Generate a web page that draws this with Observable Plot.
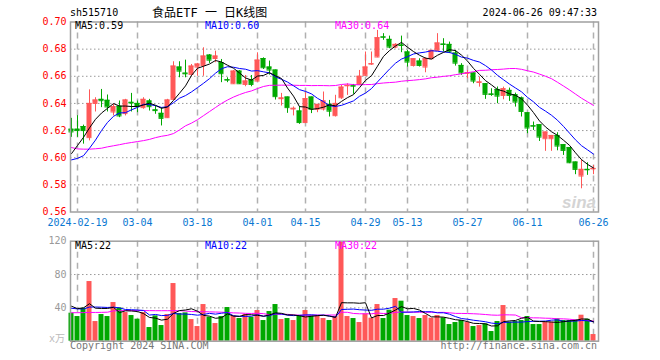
<!DOCTYPE html>
<html><head><meta charset="utf-8">
<script src="https://cdn.jsdelivr.net/npm/d3@7"></script>
<script src="https://cdn.jsdelivr.net/npm/@observablehq/plot@0.6"></script>
<style>
html,body{margin:0;padding:0;background:#fff;}
#wrap{position:relative;width:660px;height:360px;overflow:hidden;font-family:"DejaVu Sans Mono",monospace;font-size:10px;}
.t{position:absolute;white-space:pre;line-height:10px;z-index:2;}
.c{position:absolute;left:0;z-index:1;}
</style></head><body><div id="wrap"></div>
<script>
const dates = ["2024-02-08","2024-02-19","2024-02-20","2024-02-21","2024-02-22","2024-02-23","2024-02-26","2024-02-27","2024-02-28","2024-02-29",
"2024-03-01","2024-03-04","2024-03-05","2024-03-06","2024-03-07","2024-03-08","2024-03-11","2024-03-12","2024-03-13","2024-03-14","2024-03-15",
"2024-03-18","2024-03-19","2024-03-20","2024-03-21","2024-03-22","2024-03-25","2024-03-26","2024-03-27","2024-03-28","2024-03-29",
"2024-04-01","2024-04-02","2024-04-03","2024-04-08","2024-04-09","2024-04-10","2024-04-11","2024-04-12","2024-04-15","2024-04-16","2024-04-17","2024-04-18","2024-04-19",
"2024-04-22","2024-04-23","2024-04-24","2024-04-25","2024-04-26","2024-04-29","2024-04-30",
"2024-05-06","2024-05-07","2024-05-08","2024-05-09","2024-05-10","2024-05-13","2024-05-14","2024-05-15","2024-05-16","2024-05-17",
"2024-05-20","2024-05-21","2024-05-22","2024-05-23","2024-05-24","2024-05-27","2024-05-28","2024-05-29","2024-05-30","2024-05-31",
"2024-06-03","2024-06-04","2024-06-05","2024-06-06","2024-06-07","2024-06-11","2024-06-12","2024-06-13","2024-06-14",
"2024-06-17","2024-06-18","2024-06-19","2024-06-20","2024-06-21","2024-06-24","2024-06-25","2024-06-26"];

const open = [0.621,0.621,0.623,0.6148,0.640,0.643,0.6423,0.6337,0.6379,0.6325,
0.6408,0.640,0.6369,0.6418,0.6352,0.6327,0.6295,0.643,0.6668,0.6623,
0.6614,0.6668,0.668,0.6756,0.6731,0.670,0.6575,0.6545,0.6638,0.654,
0.6572,0.6565,0.6731,0.6668,0.6646,0.6435,0.6447,0.6359,0.6344,0.6259,
0.6447,0.6357,0.6359,0.6393,0.631,0.6442,0.6530,0.6530,0.654,0.6607,
0.6690,0.6742,0.6890,0.6872,0.6815,0.6830,0.6779,0.668,0.6712,0.6668,
0.6729,0.6791,0.6837,0.6835,0.6771,0.668,0.6622,0.6624,0.6555,0.6545,
0.6469,0.6503,0.6459,0.6496,0.6464,0.644,0.6331,0.6235,0.6243,0.614,
0.614,0.6164,0.6096,0.6074,0.5968,0.5865,0.5914,0.5918];
const high = [0.629,0.631,0.624,0.650,0.6442,0.6503,0.6462,0.6393,0.6418,0.643,
0.6474,0.6418,0.6442,0.643,0.638,0.6369,0.643,0.6707,0.6707,0.6719,
0.6687,0.6695,0.681,0.676,0.6785,0.6724,0.6589,0.6643,0.6643,0.6606,
0.6606,0.6773,0.6736,0.6712,0.6646,0.6474,0.6447,0.6374,0.6376,0.6479,
0.6447,0.6393,0.6484,0.6422,0.646,0.6533,0.6545,0.654,0.6643,0.6779,
0.6779,0.6938,0.6914,0.6896,0.684,0.6896,0.6791,0.6729,0.6729,0.6737,
0.6791,0.6914,0.6877,0.6852,0.6791,0.6693,0.6643,0.6626,0.6594,0.6545,
0.6508,0.6521,0.652,0.6513,0.6476,0.6447,0.6331,0.6263,0.6243,0.6189,
0.6164,0.6184,0.6096,0.6074,0.5968,0.5985,0.5963,0.5943];
const low = [0.615,0.615,0.610,0.6124,0.6337,0.6369,0.6337,0.6308,0.6295,0.6308,
0.6337,0.6332,0.6357,0.6344,0.632,0.6234,0.629,0.6425,0.6589,0.6589,
0.6597,0.660,0.660,0.6695,0.670,0.6553,0.6553,0.654,0.654,0.6523,
0.6523,0.656,0.665,0.6609,0.6425,0.6381,0.6327,0.6308,0.6246,0.6254,
0.6325,0.6332,0.6344,0.630,0.630,0.643,0.6459,0.6467,0.6535,0.660,
0.668,0.6737,0.6865,0.6803,0.6803,0.6774,0.6668,0.6668,0.6668,0.6626,
0.6729,0.6786,0.6779,0.6767,0.6675,0.6607,0.6582,0.6545,0.652,0.643,
0.6452,0.6398,0.6427,0.6415,0.6373,0.630,0.6177,0.6201,0.612,0.6047,
0.6047,0.6051,0.6017,0.5956,0.5875,0.5771,0.587,0.5875];
const close = [0.619,0.620,0.620,0.640,0.6425,0.642,0.6374,0.6376,0.6308,0.6425,
0.6403,0.6376,0.643,0.6376,0.6347,0.629,0.6425,0.6675,0.6638,0.6618,
0.6675,0.669,0.6749,0.6719,0.6749,0.6619,0.6572,0.6638,0.6545,0.6565,
0.654,0.6719,0.6663,0.6646,0.645,0.644,0.6369,0.6364,0.6259,0.6435,
0.6357,0.6393,0.6418,0.6343,0.640,0.652,0.6533,0.6528,0.660,0.6668,
0.6693,0.6884,0.6888,0.6815,0.6835,0.6827,0.6705,0.6729,0.668,0.6729,
0.6791,0.6845,0.6835,0.6779,0.6697,0.6624,0.6626,0.6565,0.6558,0.6467,
0.6467,0.6454,0.6508,0.6459,0.641,0.6341,0.6219,0.6233,0.6152,0.6189,
0.6164,0.6086,0.6054,0.5963,0.5914,0.5914,0.5911,0.5921];
const volume = [33.6,29.6,39.6,71.6,23.6,32,29.6,46.4,40,34.4,
30.8,26.4,34.4,16.4,30.4,18.8,32,69.2,33.2,34,
26,17.6,44,28.8,21.2,29.6,40.4,30.4,27.2,32,
28.8,36.8,24.8,35.6,44,26,27.2,24.8,30.4,36.8,
30.4,30.8,27.2,24.8,29.6,118.8,29.6,27.2,22.4,32.8,
27.6,44,27.2,37.2,51.2,48,30.8,29.6,27.2,30.8,
27.6,30.8,28,20,22.4,24.8,22.4,17.6,18.8,20.8,
11.6,23.6,42.8,22.8,23.6,24.8,29.6,20,20,22.8,
22.8,26.8,24.8,24.8,25.6,31.2,26.4,8];

const ma5Early = [0.603,0.609,0.615,0.622];
const ma10Early = [0.5984,0.5995,0.6015,0.607,0.613,0.620,0.626,0.6305,0.633];
const ma30Early = [0.6075,0.6065,0.6063,0.6063,0.6066,0.607,0.608,0.6088,0.6096,0.6105,0.6112,0.6119,0.6126,0.6135,0.6148,0.6158,0.6165,0.6178,0.6205,0.6235,0.6255,0.628,0.631,0.634,0.637,0.640,0.6425,0.6447,0.6465];
const vma5Early = [42,39,40,45];
const vma10Early = [39.5,38.8,38.6,41,41,40.8,40.5,40.8,40];
const vma30Early = [34.2,34.2,34.3,34.5,34.5,34.6,34.8,36.4,36.6,36.8,36.8,36.8,36.8,36.7,36.6,36.6,36.6,36.6,36.6,36.2,35.6,35.4,35.4,35.2,35,34.8,34.4,34,33.8];

const tickDates = ["2024-02-19","2024-03-04","2024-03-18","2024-04-01","2024-04-15","2024-04-29","2024-05-13","2024-05-27","2024-06-11","2024-06-26"];
const tickLabels = ["2024-02-19","03-04","03-18","04-01","04-15","04-29","05-13","05-27","06-11","06-26"];
const priceTicks = [0.56,0.58,0.60,0.62,0.64,0.66,0.68,0.70];
const priceGrid = [0.58,0.60,0.62,0.64,0.66,0.68];
const volTicks = [40,80,120];
const volGrid = [40,80];

const RED = "#ff5858", GREEN = "#00a800";
const rows = dates.map((d,i)=>({i, date:d, open:open[i], high:high[i], low:low[i], close:close[i], vol:volume[i], up: close[i] >= open[i]}));
function ma(vals, n, early){ return vals.map((v,i)=> ({i, v: i < n-1 ? early[i] : d3.mean(vals.slice(i-n+1,i+1))})); }
const ma5 = ma(close,5,ma5Early), ma10 = ma(close,10,ma10Early), ma30 = ma(close,30,ma30Early);
const vma5 = ma(volume,5,vma5Early), vma10 = ma(volume,10,vma10Early), vma30 = ma(volume,30,vma30Early);
const tickIdx = tickDates.map(d=>dates.indexOf(d));
const labelOf = new Map(tickIdx.map((k,j)=>[k,tickLabels[j]]));
const ups = rows.filter(d=>d.up), downs = rows.filter(d=>!d.up);
const hw = 2.5/6;
const xDomain = [-1/6, 87 + 5/6];
const style = {fontFamily:'"DejaVu Sans Mono", monospace', fontSize:"10px", background:"transparent", overflow:"visible"};

function candles(data, color){
  return [
    Plot.ruleX(data, {x:"i", y1:"low", y2:"high", stroke:color}),
    Plot.rect(data, {x1:d=>d.i-hw, x2:d=>d.i+hw, y1:"open", y2:"close", fill:color}),
    Plot.ruleY(data, {y:"close", x1:d=>d.i-hw, x2:d=>d.i+hw, stroke:color}),
    Plot.ruleY(data, {y:"open", x1:d=>d.i-hw, x2:d=>d.i+hw, stroke:color})
  ];
}

const price = Plot.plot({
  width:660, height:230, marginTop:21.5, marginBottom:18.5, marginLeft:70, marginRight:62,
  x:{type:"linear", domain:xDomain, label:null},
  y:{domain:[0.56,0.70], label:null},
  style,
  marks:[
    Plot.ruleY(priceGrid, {stroke:"#999", strokeDasharray:"1.5,2.5"}),
    Plot.ruleX(tickIdx, {stroke:"#b0b0b0", strokeWidth:1.5, strokeDasharray:"6,5"}),
    ...candles(ups, RED),
    ...candles(downs, GREEN),
    Plot.line(ma30, {x:"i", y:"v", stroke:"#ff00ff", strokeWidth:1}),
    Plot.line(ma10, {x:"i", y:"v", stroke:"#0000ff", strokeWidth:1}),
    Plot.line(ma5, {x:"i", y:"v", stroke:"#000", strokeWidth:1}),
    Plot.frame({stroke:"#a0a0a0", strokeWidth:1.5}),
    Plot.axisY(priceTicks, {anchor:"left", tickSize:0, tickPadding:4, tickFormat:d=>d.toFixed(2), fill:"#f00", fontSize:10, label:null}),
    Plot.axisX(tickIdx, {anchor:"bottom", tickSize:0, tickPadding:7, tickFormat:k=>labelOf.get(k), fill:"#0a78d2", fontSize:10, label:null})
  ]
});

const vol = Plot.plot({
  width:660, height:130, marginTop:10.7, marginBottom:19.3, marginLeft:70, marginRight:62,
  x:{type:"linear", domain:xDomain, axis:null, label:null},
  y:{domain:[0,120], label:null},
  style,
  marks:[
    Plot.ruleY(volGrid, {stroke:"#999", strokeDasharray:"1.5,2.5"}),
    Plot.ruleX(tickIdx, {stroke:"#b0b0b0", strokeWidth:1.5, strokeDasharray:"6,5"}),
    Plot.rect(ups, {x1:d=>d.i-hw, x2:d=>d.i+hw, y1:0, y2:"vol", fill:RED}),
    Plot.rect(downs, {x1:d=>d.i-hw, x2:d=>d.i+hw, y1:0, y2:"vol", fill:GREEN}),
    Plot.line(vma30, {x:"i", y:"v", stroke:"#ff00ff", strokeWidth:1}),
    Plot.line(vma10, {x:"i", y:"v", stroke:"#0000ff", strokeWidth:1}),
    Plot.line(vma5, {x:"i", y:"v", stroke:"#000", strokeWidth:1}),
    Plot.frame({stroke:"#a0a0a0", strokeWidth:1.5}),
    Plot.axisY(volTicks, {anchor:"left", tickSize:0, tickPadding:4, fill:"#999", fontSize:10, label:null})
  ]
});

const wrap = document.getElementById("wrap");
price.classList.add("c"); price.style.top = "0px";
vol.classList.add("c"); vol.style.top = "230px";
wrap.appendChild(price); wrap.appendChild(vol);

function txt(s, css){ const el = document.createElement("div"); el.className="t"; el.textContent=s; Object.assign(el.style, css); wrap.appendChild(el); }
txt("sh515710", {left:"70px", top:"8px", color:"#000"});
txt("食品ETF 一 日K线图", {left:"152px", top:"7px", fontSize:"12px", lineHeight:"12px", fontFamily:'"DejaVu Sans Mono","Noto Sans CJK SC",monospace', color:"#000"});
txt("2024-06-26 09:47:33", {right:"63px", top:"8px", color:"#000"});
txt("MA5:0.59", {left:"75px", top:"21px", color:"#000"});
txt("MA10:0.60", {left:"205px", top:"21px", color:"#0000ff"});
txt("MA30:0.64", {left:"335px", top:"21px", color:"#ff00ff"});
txt("MA5:22", {left:"75px", top:"241px", color:"#000"});
txt("MA10:22", {left:"205px", top:"241px", color:"#0000ff"});
txt("MA30:22", {left:"335px", top:"241px", color:"#ff00ff"});
txt("x万", {left:"49px", top:"334px", color:"#bbb", fontFamily:'"DejaVu Sans Mono","Noto Sans CJK SC",monospace'});
txt("Copyright 2024 SINA.COM", {left:"70px", top:"341px", color:"#777"});
txt("http://finance.sina.com.cn", {right:"63px", top:"341px", color:"#777"});
txt("sina", {left:"562px", top:"194px", fontSize:"17px", lineHeight:"17px", fontStyle:"italic", fontWeight:"bold", fontFamily:"Liberation Sans, sans-serif", color:"#d4d4d4"});
</script></body></html>
